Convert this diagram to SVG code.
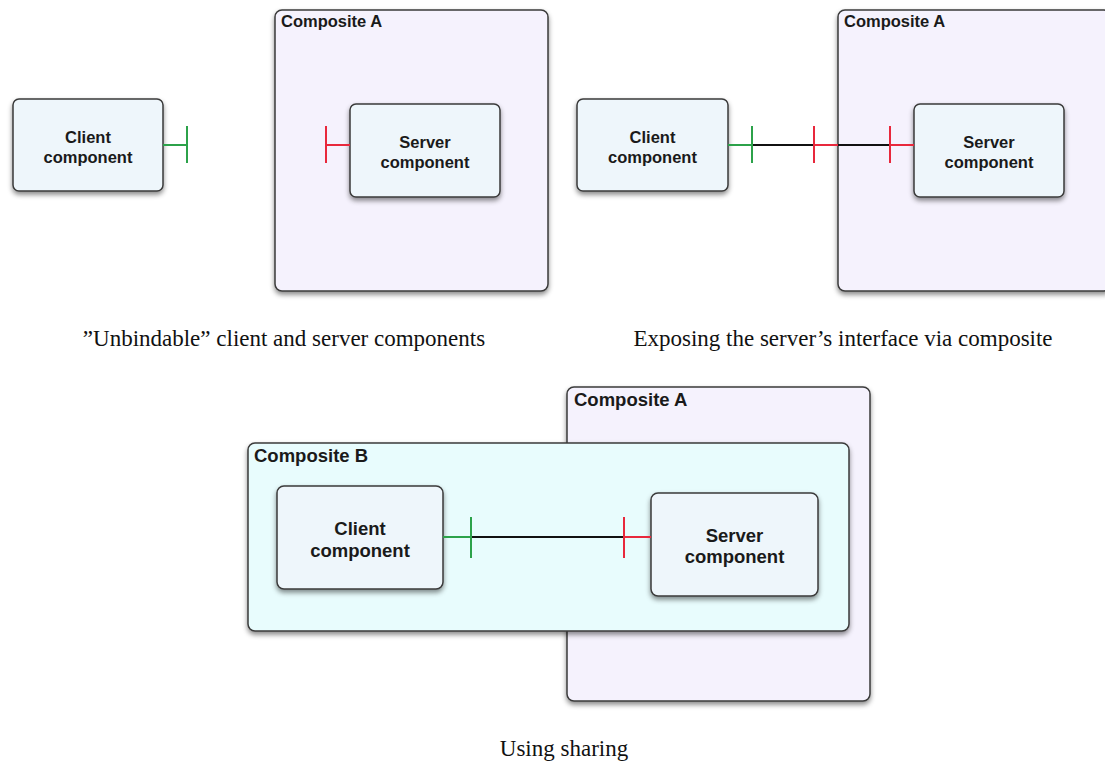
<svg xmlns="http://www.w3.org/2000/svg" width="1105" height="766" viewBox="0 0 1105 766">
<defs>
<filter id="sh" x="-10%" y="-10%" width="120%" height="125%">
<feDropShadow dx="0" dy="3" stdDeviation="2.5" flood-color="#000" flood-opacity="0.45"/>
</filter>
<style>
.comp{fill:#eef6fb;stroke:#3a3a3a;stroke-width:1.5;filter:url(#sh)}
.ca{fill:#f5f2fd;stroke:#3a3a3a;stroke-width:1.5;filter:url(#sh)}
.cb{fill:#e8fcfd;stroke:#3a3a3a;stroke-width:1.5;filter:url(#sh)}
.lbl{font-family:"Liberation Sans",Arial,sans-serif;font-weight:bold;fill:#1a1a1a}
.t16{font-size:16.5px}
.t18{font-size:18.5px}
.mid{text-anchor:middle}
.cap{font-family:"Liberation Serif","Times New Roman",serif;font-size:23px;fill:#111;text-anchor:middle}
.g{stroke:#2ca24a;stroke-width:2;fill:none}
.r{stroke:#e8283c;stroke-width:2;fill:none}
.k{stroke:#111;stroke-width:2;fill:none}
</style>
</defs>
<rect width="1105" height="766" fill="#fff"/>

<!-- Top-left diagram -->
<g id="tl-compositeA">
<rect class="ca" x="275" y="10" width="273" height="281" rx="7"/>
<text class="lbl t16" x="281" y="27">Composite A</text>
</g>
<g id="tl-client">
<rect class="comp" x="13" y="99" width="150" height="92" rx="6"/>
<text class="lbl t16 mid" x="88" y="143">Client</text>
<text class="lbl t16 mid" x="88" y="163">component</text>
</g>
<g id="tl-server">
<rect class="comp" x="350" y="104" width="150" height="93" rx="6"/>
<text class="lbl t16 mid" x="425" y="148">Server</text>
<text class="lbl t16 mid" x="425" y="168">component</text>
</g>

<!-- Top-right diagram -->
<g id="tr-compositeA">
<rect class="ca" x="838" y="10" width="273" height="281" rx="7"/>
<text class="lbl t16" x="844" y="27">Composite A</text>
</g>
<g id="tr-client">
<rect class="comp" x="577" y="99" width="151" height="92" rx="6"/>
<text class="lbl t16 mid" x="652.5" y="143">Client</text>
<text class="lbl t16 mid" x="652.5" y="163">component</text>
</g>
<g id="tr-server">
<rect class="comp" x="914" y="104" width="150" height="93" rx="6"/>
<text class="lbl t16 mid" x="989" y="148">Server</text>
<text class="lbl t16 mid" x="989" y="168">component</text>
</g>

<!-- Bottom diagram -->
<g id="b-compositeA">
<rect class="ca" x="567" y="387" width="303" height="314" rx="7"/>
<text class="lbl t18" x="574" y="406">Composite A</text>
</g>
<g id="b-compositeB">
<rect class="cb" x="248" y="443" width="601" height="188" rx="7"/>
<text class="lbl t18" x="254" y="462">Composite B</text>
</g>
<g id="b-client">
<rect class="comp" x="277" y="486" width="166" height="103" rx="7"/>
<text class="lbl t18 mid" x="360" y="535">Client</text>
<text class="lbl t18 mid" x="360" y="557">component</text>
</g>
<g id="b-server">
<rect class="comp" x="651" y="493" width="167" height="103" rx="7"/>
<text class="lbl t18 mid" x="734.5" y="542">Server</text>
<text class="lbl t18 mid" x="734.5" y="563">component</text>
</g>

<!-- Connectors -->
<g id="connectors">
<path class="g" d="M163 145H187M187 126V163"/>
<path class="r" d="M350 145H326M326 126V163"/>
<path class="k" d="M752 145H814M838 145H890"/>
<path class="g" d="M728 145H752M752 126V163"/>
<path class="r" d="M814 145H838M814 126V163"/>
<path class="r" d="M890 145H914M890 126V163"/>
<path class="k" d="M471 537H624"/>
<path class="g" d="M443 537H471M471 517V558"/>
<path class="r" d="M624 537H651M624 517V558"/>
</g>

<!-- Captions -->
<g id="captions">
<text class="cap" x="284" y="346">”Unbindable” client and server components</text>
<text class="cap" x="843" y="346">Exposing the server’s interface via composite</text>
<text class="cap" x="564" y="756">Using sharing</text>
</g>
</svg>
